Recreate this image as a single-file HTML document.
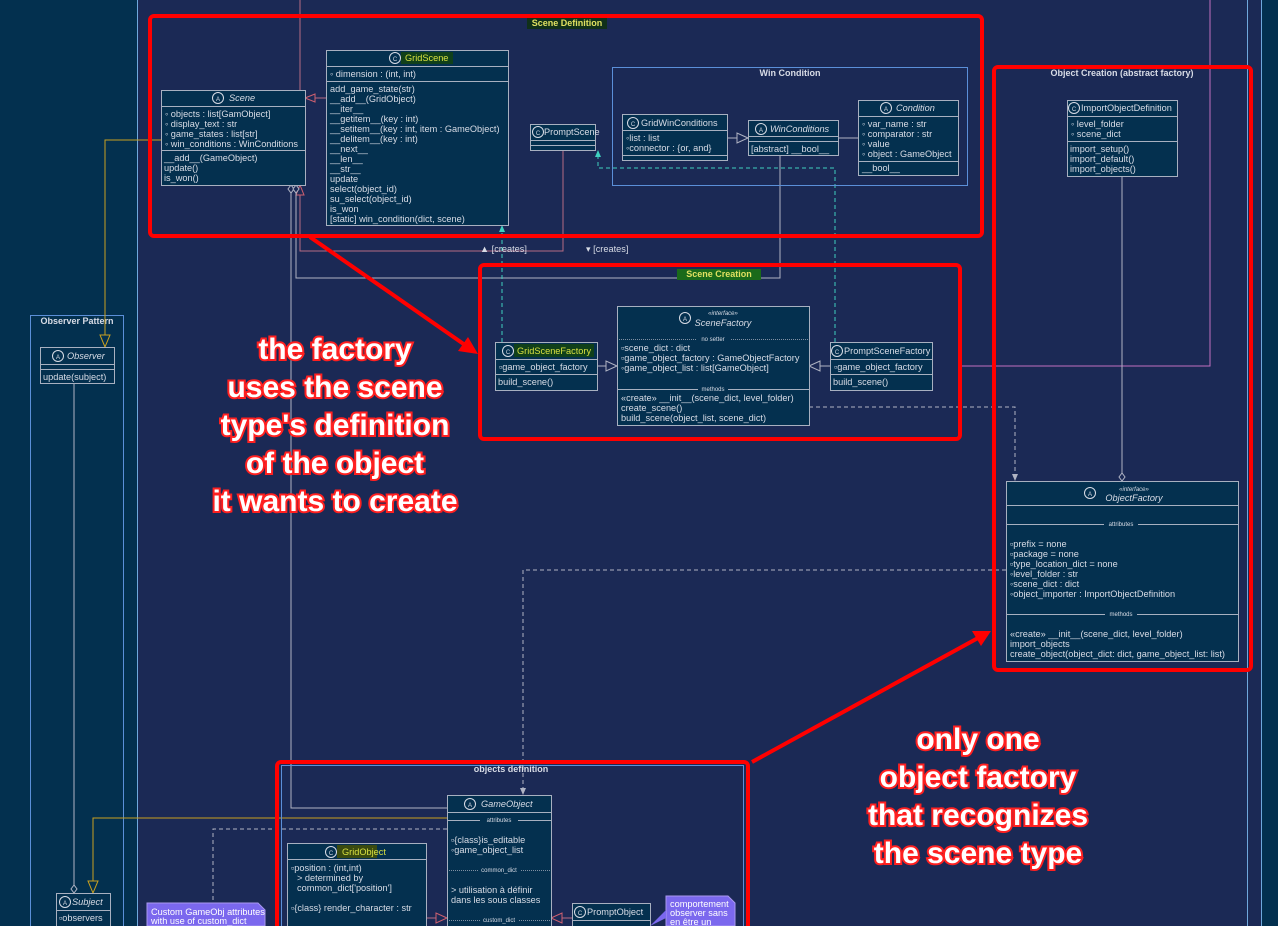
<!DOCTYPE html>
<html><head><meta charset="utf-8"><style>
html,body{margin:0;padding:0;background:#1b2955;}
svg{display:block;font-family:"Liberation Sans",sans-serif;}
.t{font-size:9.2px;fill:#d8dce6;}
.i{font-size:9.2px;fill:#d8dce6;font-style:italic;}
.s{font-size:6px;fill:#d8dce6;}
.box{fill:#04304f;stroke:#a8b0c0;stroke-width:1;}
.sep{stroke:#a8b0c0;stroke-width:1;}
.dot{stroke:#a8b0c0;stroke-width:0.8;stroke-dasharray:1,1;}
.pk{fill:none;stroke:#5b8fd8;stroke-width:1;}
.pt{font-size:9px;font-weight:bold;fill:#d8dce6;}
.big{font-size:30px;font-weight:bold;fill:#fff;stroke:#ff2020;stroke-width:4px;paint-order:stroke;text-anchor:middle;}
.red{fill:none;stroke:#ff0000;stroke-width:4;}
.ln{fill:none;stroke:#b0b4c4;stroke-width:1;}
.pl{fill:none;stroke:#b66a82;stroke-width:1;}
.dl{fill:none;stroke:#b0b4c4;stroke-width:1;stroke-dasharray:4,3;}
.tl{fill:none;stroke:#3fd0c0;stroke-width:1;stroke-dasharray:4,3;}
.yl{fill:none;stroke:#c8a020;stroke-width:1;}
.ic{fill:#04304f;stroke:#d8dce6;stroke-width:1;}
</style></head><body>
<svg width="1278" height="926" viewBox="0 0 1278 926" xmlns="http://www.w3.org/2000/svg">
<rect x="0" y="0" width="1278" height="926" fill="#1b2955"/>
<rect x="0" y="0" width="137" height="926" fill="#03304f"/>
<rect x="1262" y="0" width="16" height="926" fill="#03304f"/>
<line x1="137.5" y1="0" x2="137.5" y2="926" stroke="#6fa8dc"/>
<line x1="1261.5" y1="0" x2="1261.5" y2="926" stroke="#6fa8dc"/>
<line x1="1247.5" y1="0" x2="1247.5" y2="926" stroke="#6fa8dc"/>
<rect x="30.5" y="315.5" width="93" height="620" class="pk"/>
<text x="77" y="324" class="pt" text-anchor="middle">Observer Pattern</text>

<polyline points="300,0 300,90" class="pl"/>
<polyline points="300,185 300,251 563,251 563,150" class="pl"/>
<polygon points="300,185 296,195 304,195" fill="#1b2955" stroke="#d06070"/>
<polyline points="296,185 296,278 780,278 780,155" class="ln"/>
<polyline points="291,185 291,808 447,808" class="ln"/>
<polygon points="291,185 288,189 291,193 294,189" fill="#1b2955" stroke="#b0b4c4"/>
<polygon points="296,185 293,189 296,193 299,189" fill="#1b2955" stroke="#b0b4c4"/>
<line x1="326" y1="98" x2="310" y2="98" class="pl"/>
<polygon points="305,98 315,94 315,102" fill="#1b2955" stroke="#d06070"/>
<polyline points="161,140 105,140 105,335" class="yl"/>
<polygon points="105,347 100,335 110,335" fill="#03304f" stroke="#c8a020"/>
<polyline points="447,818 93,818 93,881" class="yl"/>
<polygon points="93,893 88,881 98,881" fill="#03304f" stroke="#c8a020"/>
<polyline points="74,383 74,885" class="ln"/>
<polygon points="74,885 71,889 74,893 77,889" fill="#03304f" stroke="#b0b4c4"/>
<polyline points="502,342 502,226" class="tl"/>
<polygon points="502,225 499,232 505,232" fill="#3fd0c0"/>
<polyline points="835,342 835,168 598,168 598,151" class="tl"/>
<polygon points="598,150 595,157 601,157" fill="#3fd0c0"/>
<text x="480" y="252" class="t" font-size="8">▲ [creates]</text>
<text x="586" y="252" class="t" font-size="8">▾ [creates]</text>
<line x1="727" y1="138" x2="740" y2="138" class="ln"/>
<polygon points="748,138 737,133 737,143" fill="#1b2955" stroke="#b0b4c4"/>
<line x1="838" y1="138" x2="858" y2="138" class="ln"/>
<line x1="597" y1="366" x2="608" y2="366" class="ln"/>
<polygon points="617,366 606,361 606,371" fill="#1b2955" stroke="#b0b4c4"/>
<line x1="830" y1="366" x2="820" y2="366" class="ln"/>
<polygon points="809,366 820,361 820,371" fill="#1b2955" stroke="#b0b4c4"/>
<polyline points="1210,0 1210,366 960,366" fill="none" stroke="#c070c0"/>
<polyline points="809,407 1015,407 1015,478" class="dl"/>
<polygon points="1015,481 1012,474 1018,474" fill="#b0b4c4"/>
<polyline points="1122,176 1122,473" class="ln"/>
<polygon points="1122,473 1119,477 1122,481 1125,477" fill="#1b2955" stroke="#b0b4c4"/>
<polyline points="1006,570 523,570 523,792" class="dl"/>
<polygon points="523,795 520,788 526,788" fill="#b0b4c4"/>
<polyline points="447,829 213,829 213,903" class="dl"/>
<line x1="426" y1="918" x2="437" y2="918" class="pl"/>
<polygon points="447,918 436,913 436,923" fill="#1b2955" stroke="#d06070"/>
<line x1="572" y1="918" x2="562" y2="918" class="pl"/>
<polygon points="551,918 562,913 562,923" fill="#1b2955" stroke="#d06070"/>

<rect x="612.5" y="67.5" width="355" height="118" class="pk"/>
<text x="790" y="76" class="pt" text-anchor="middle" font-size="8">Win Condition</text>
<rect x="281.5" y="765.5" width="462" height="170" class="pk"/>

<rect x="40.5" y="347.5" width="74" height="36" class="box"/>
<line x1="40" y1="364.5" x2="114" y2="364.5" class="sep"/><line x1="40" y1="369.5" x2="114" y2="369.5" class="sep"/>
<circle cx="58" cy="356" r="5.5" class="ic"/><text x="58" y="359" class="s" text-anchor="middle" font-size="8">A</text>
<text x="67" y="359" class="i">Observer</text>
<text x="43" y="380" class="t">update(subject)</text>
<rect x="56.5" y="893.5" width="54" height="40" class="box"/>
<line x1="56" y1="910.5" x2="110" y2="910.5" class="sep"/>
<circle cx="65" cy="902" r="5.5" class="ic"/><text x="65" y="905" class="s" text-anchor="middle" font-size="8">A</text>
<text x="72" y="905" class="i">Subject</text>
<text x="59" y="921" class="t">▫observers</text>

<rect x="161.5" y="90.5" width="144" height="95" class="box"/>
<line x1="161" y1="106.5" x2="305" y2="106.5" class="sep"/><line x1="161" y1="150.5" x2="305" y2="150.5" class="sep"/>
<circle cx="218" cy="98" r="5.5" class="ic"/><text x="218" y="101" class="s" text-anchor="middle" font-size="8">A</text>
<text x="229" y="101" class="i">Scene</text>
<text x="165" y="117" class="t">◦ objects : list[GamObject]</text>
<text x="165" y="127" class="t">◦ display_text : str</text>
<text x="165" y="137" class="t">◦ game_states : list[str]</text>
<text x="165" y="147" class="t">◦ win_conditions : WinConditions</text>
<text x="164" y="161" class="t">__add__(GameObject)</text>
<text x="164" y="171" class="t">update()</text>
<text x="164" y="181" class="t">is_won()</text>

<rect x="326.5" y="50.5" width="182" height="175" class="box"/>
<line x1="326" y1="66.5" x2="508" y2="66.5" class="sep"/><line x1="326" y1="81.5" x2="508" y2="81.5" class="sep"/>
<circle cx="395" cy="58" r="5.5" class="ic"/><text x="395" y="61" class="s" text-anchor="middle" font-size="8">C</text>
<rect x="401" y="52" width="52" height="12" fill="#10401a"/>
<text x="405" y="61" class="t" style="fill:#d8e040">GridScene</text>
<text x="330" y="77" class="t">◦ dimension : (int, int)</text>
<g class="t">
<text x="330" y="92">add_game_state(str)</text>
<text x="330" y="102">__add__(GridObject)</text>
<text x="330" y="112">__iter__</text>
<text x="330" y="122">__getitem__(key : int)</text>
<text x="330" y="132">__setitem__(key : int, item : GameObject)</text>
<text x="330" y="142">__delitem__(key : int)</text>
<text x="330" y="152">__next__</text>
<text x="330" y="162">__len__</text>
<text x="330" y="172">__str__</text>
<text x="330" y="182">update</text>
<text x="330" y="192">select(object_id)</text>
<text x="330" y="202">su_select(object_id)</text>
<text x="330" y="212">is_won</text>
<text x="330" y="222">[static] win_condition(dict, scene)</text>
</g>

<rect x="530.5" y="124.5" width="65" height="26" class="box"/>
<line x1="530" y1="140.5" x2="595" y2="140.5" class="sep"/><line x1="530" y1="145.5" x2="595" y2="145.5" class="sep"/>
<circle cx="538" cy="132" r="5.5" class="ic"/><text x="538" y="135" class="s" text-anchor="middle" font-size="8">C</text>
<text x="544" y="135" class="t" font-size="8.5">PromptScene</text>

<rect x="622.5" y="114.5" width="105" height="46" class="box"/>
<line x1="622" y1="130.5" x2="727" y2="130.5" class="sep"/><line x1="622" y1="155.5" x2="727" y2="155.5" class="sep"/>
<circle cx="633" cy="123" r="5.5" class="ic"/><text x="633" y="126" class="s" text-anchor="middle" font-size="8">C</text>
<text x="641" y="126" class="t">GridWinConditions</text>
<text x="626" y="141" class="t">◦list : list</text>
<text x="626" y="151" class="t">◦connector : {or, and}</text>
<rect x="748.5" y="120.5" width="90" height="35" class="box"/>
<line x1="748" y1="136.5" x2="838" y2="136.5" class="sep"/><line x1="748" y1="141.5" x2="838" y2="141.5" class="sep"/>
<circle cx="761" cy="129" r="5.5" class="ic"/><text x="761" y="132" class="s" text-anchor="middle" font-size="8">A</text>
<text x="770" y="132" class="i">WinConditions</text>
<text x="751" y="152" class="t">[abstract] __bool__</text>
<rect x="858.5" y="100.5" width="100" height="75" class="box"/>
<line x1="858" y1="116.5" x2="958" y2="116.5" class="sep"/><line x1="858" y1="161.5" x2="958" y2="161.5" class="sep"/>
<circle cx="886" cy="108" r="5.5" class="ic"/><text x="886" y="111" class="s" text-anchor="middle" font-size="8">A</text>
<text x="896" y="111" class="i">Condition</text>
<text x="862" y="127" class="t">◦ var_name : str</text>
<text x="862" y="137" class="t">◦ comparator : str</text>
<text x="862" y="147" class="t">◦ value</text>
<text x="862" y="157" class="t">◦ object : GameObject</text>
<text x="862" y="171" class="t">__bool__</text>

<rect x="1067.5" y="100.5" width="110" height="76" class="box"/>
<line x1="1067" y1="116.5" x2="1177" y2="116.5" class="sep"/><line x1="1067" y1="141.5" x2="1177" y2="141.5" class="sep"/>
<circle cx="1074" cy="108" r="5.5" class="ic"/><text x="1074" y="111" class="s" text-anchor="middle" font-size="8">C</text>
<text x="1081" y="111" class="t" font-size="8.5">ImportObjectDefinition</text>
<text x="1071" y="127" class="t">◦ level_folder</text>
<text x="1071" y="137" class="t">◦ scene_dict</text>
<text x="1070" y="152" class="t">import_setup()</text>
<text x="1070" y="162" class="t">import_default()</text>
<text x="1070" y="172" class="t">import_objects()</text>

<rect x="1006.5" y="481.5" width="232" height="180" class="box"/>
<line x1="1006" y1="505.5" x2="1238" y2="505.5" class="sep"/>
<line x1="1006" y1="524.5" x2="1238" y2="524.5" class="sep"/>
<rect x="1104" y="520" width="34" height="8" fill="#04304f"/><text x="1121" y="526" class="s" text-anchor="middle">attributes</text>
<line x1="1006" y1="614.5" x2="1238" y2="614.5" class="sep"/>
<rect x="1105" y="610" width="32" height="8" fill="#04304f"/><text x="1121" y="616" class="s" text-anchor="middle">methods</text>
<circle cx="1090" cy="493" r="5.5" class="ic"/><text x="1090" y="496" class="s" text-anchor="middle" font-size="8">A</text>
<text x="1134" y="491" class="s" text-anchor="middle" font-style="italic">«interface»</text>
<text x="1134" y="501" class="i" text-anchor="middle">ObjectFactory</text>
<g class="t">
<text x="1010" y="547">▫prefix = none</text>
<text x="1010" y="557">▫package = none</text>
<text x="1010" y="567">▫type_location_dict = none</text>
<text x="1010" y="577">◦level_folder : str</text>
<text x="1010" y="587">◦scene_dict : dict</text>
<text x="1010" y="597">◦object_importer : ImportObjectDefinition</text>
<text x="1010" y="637">«create» __init__(scene_dict, level_folder)</text>
<text x="1010" y="647">import_objects</text>
<text x="1010" y="657">create_object(object_dict: dict, game_object_list: list)</text>
</g>

<rect x="495.5" y="342.5" width="102" height="48" class="box"/>
<line x1="495" y1="359.5" x2="597" y2="359.5" class="sep"/><line x1="495" y1="374.5" x2="597" y2="374.5" class="sep"/>
<circle cx="508" cy="351" r="5.5" class="ic"/><text x="508" y="354" class="s" text-anchor="middle" font-size="8">C</text>
<rect x="514" y="344" width="80" height="13" fill="#10401a"/>
<text x="517" y="354" class="t" style="fill:#d8e040">GridSceneFactory</text>
<text x="499" y="370" class="t">▫game_object_factory</text>
<text x="498" y="385" class="t">build_scene()</text>
<rect x="617.5" y="306.5" width="192" height="119" class="box"/>
<line x1="617" y1="339.5" x2="809" y2="339.5" class="dot"/>
<rect x="696" y="335" width="34" height="8" fill="#04304f"/><text x="713" y="341" class="s" text-anchor="middle">no setter</text>
<line x1="617" y1="389.5" x2="809" y2="389.5" class="sep"/>
<rect x="698" y="385" width="30" height="8" fill="#04304f"/><text x="713" y="391" class="s" text-anchor="middle">methods</text>
<circle cx="685" cy="318" r="5.5" class="ic"/><text x="685" y="321" class="s" text-anchor="middle" font-size="8">A</text>
<text x="723" y="315" class="s" text-anchor="middle" font-style="italic">«interface»</text>
<text x="723" y="326" class="i" text-anchor="middle">SceneFactory</text>
<g class="t">
<text x="621" y="351">▫scene_dict : dict</text>
<text x="621" y="361">▫game_object_factory : GameObjectFactory</text>
<text x="621" y="371">◦game_object_list : list[GameObject]</text>
<text x="621" y="401">«create» __init__(scene_dict, level_folder)</text>
<text x="621" y="411">create_scene()</text>
<text x="621" y="421">build_scene(object_list, scene_dict)</text>
</g>
<rect x="830.5" y="342.5" width="102" height="48" class="box"/>
<line x1="830" y1="359.5" x2="932" y2="359.5" class="sep"/><line x1="830" y1="374.5" x2="932" y2="374.5" class="sep"/>
<circle cx="837" cy="351" r="5.5" class="ic"/><text x="837" y="354" class="s" text-anchor="middle" font-size="8">C</text>
<text x="844" y="354" class="t" font-size="8.5">PromptSceneFactory</text>
<text x="834" y="370" class="t">▫game_object_factory</text>
<text x="833" y="385" class="t">build_scene()</text>

<rect x="447.5" y="795.5" width="104" height="140" class="box"/>
<line x1="447" y1="812.5" x2="551" y2="812.5" class="sep"/>
<line x1="447" y1="820.5" x2="551" y2="820.5" class="sep"/>
<rect x="480" y="816" width="38" height="8" fill="#04304f"/><text x="499" y="822" class="s" text-anchor="middle">attributes</text>
<line x1="447" y1="870.5" x2="551" y2="870.5" class="dot"/>
<rect x="478" y="866" width="42" height="8" fill="#04304f"/><text x="499" y="872" class="s" text-anchor="middle">common_dict</text>
<line x1="447" y1="920.5" x2="551" y2="920.5" class="dot"/>
<rect x="480" y="916" width="38" height="8" fill="#04304f"/><text x="499" y="922" class="s" text-anchor="middle">custom_dict</text>
<circle cx="470" cy="804" r="5.5" class="ic"/><text x="470" y="807" class="s" text-anchor="middle" font-size="8">A</text>
<text x="481" y="807" class="i">GameObject</text>
<g class="t">
<text x="451" y="843">▫{class}is_editable</text>
<text x="451" y="853">◦game_object_list</text>
<text x="451" y="893">&gt; utilisation à définir</text>
<text x="451" y="903">dans les sous classes</text>
</g>
<rect x="287.5" y="843.5" width="139" height="95" class="box"/>
<line x1="287" y1="859.5" x2="426" y2="859.5" class="sep"/>
<circle cx="331" cy="852" r="5.5" class="ic"/><text x="331" y="855" class="s" text-anchor="middle" font-size="8">C</text>
<rect x="337" y="845" width="40" height="13" fill="#3a4a10"/>
<text x="342" y="855" class="t" style="fill:#d8e040">GridObject</text>
<g class="t">
<text x="291" y="871">▫position : (int,int)</text>
<text x="297" y="881">&gt; determined by</text>
<text x="297" y="891">common_dict['position']</text>
<text x="291" y="911">▫{class} render_character : str</text>
</g>
<rect x="572.5" y="903.5" width="78" height="30" class="box"/>
<line x1="572" y1="920.5" x2="650" y2="920.5" class="sep"/>
<circle cx="580" cy="912" r="5.5" class="ic"/><text x="580" y="915" class="s" text-anchor="middle" font-size="8">C</text>
<text x="587" y="915" class="t">PromptObject</text>
<polygon points="147,903 258,903 265,910 265,926 147,926" fill="#7b68ee" stroke="#a898f0"/>
<text x="151" y="915" class="t" font-size="8" style="fill:#fff">Custom GameObj attributes</text>
<text x="151" y="924" class="t" font-size="8" style="fill:#fff">with use of custom_dict</text>
<polygon points="666,896 728,896 735,903 735,926 666,926" fill="#7b68ee" stroke="#a898f0"/>
<polygon points="650,926 666,910 666,918" fill="#7b68ee"/>
<text x="670" y="907" class="t" font-size="8" style="fill:#fff">comportement</text>
<text x="670" y="916" class="t" font-size="8" style="fill:#fff">observer sans</text>
<text x="670" y="925" class="t" font-size="8" style="fill:#fff">en être un</text>

<rect x="150" y="16" width="832" height="220" rx="4" class="red"/>
<rect x="527" y="18" width="80" height="11" fill="#10301a"/>
<text x="567" y="26" class="pt" font-size="8" text-anchor="middle" style="fill:#e0e060">Scene Definition</text>
<rect x="480" y="265" width="480" height="174" rx="4" class="red"/>
<rect x="677" y="269" width="84" height="11" fill="#1a6a1a"/>
<text x="719" y="277" class="pt" font-size="8" text-anchor="middle" style="fill:#e0e060">Scene Creation</text>
<rect x="994" y="67" width="257" height="603" rx="4" class="red"/>
<text x="1122" y="76" class="pt" font-size="8" text-anchor="middle">Object Creation (abstract factory)</text>
<rect x="277" y="762" width="471" height="180" rx="4" class="red"/>
<text x="511" y="772" class="pt" font-size="8" text-anchor="middle">objects definition</text>

<line x1="310" y1="237" x2="465" y2="345" stroke="#ff0000" stroke-width="4"/>
<polygon points="478,354 458,351 468,337" fill="#ff0000"/>
<line x1="752" y1="762" x2="978" y2="638" stroke="#ff0000" stroke-width="4"/>
<polygon points="991,631 981,646 972,631" fill="#ff0000"/>

<text x="335" y="359" class="big">the factory</text>
<text x="335" y="397" class="big">uses the scene</text>
<text x="335" y="435" class="big">type's definition</text>
<text x="335" y="473" class="big">of the object</text>
<text x="335" y="511" class="big">it wants to create</text>
<text x="978" y="749" class="big">only one</text>
<text x="978" y="787" class="big">object factory</text>
<text x="978" y="825" class="big">that recognizes</text>
<text x="978" y="863" class="big">the scene type</text>
</svg>
</body></html>
